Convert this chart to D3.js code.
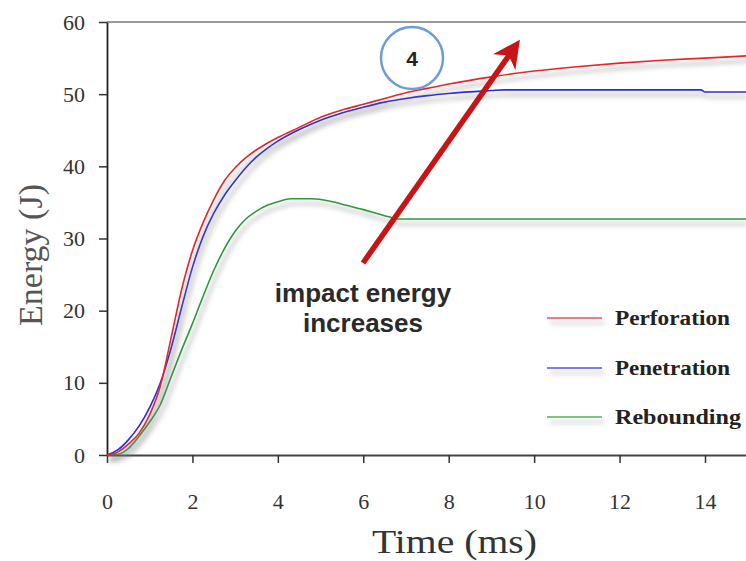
<!DOCTYPE html>
<html>
<head>
<script src="https://d3js.org/d3.v7.min.js"></script>
<style>
  body { margin: 0; background: #fff; }
</style>
</head>
<body>
<div id="chart"></div>
<script>
// time (ms) and energy (J)
const perfT = [0, 0.25, 0.5, 0.75, 1.0, 1.25, 1.5, 1.75, 2.0, 2.25, 2.5, 2.75, 3.0, 3.25, 3.5, 3.75, 4.0, 4.5, 5.0, 5.5, 6.0, 6.5, 7.0, 7.5, 8.0, 9.0, 10.0, 11.0, 12.0, 13.0, 14.0, 14.96];
const perfE = [0, 0.4, 1.5, 3.0, 5.6, 9.6, 16.2, 23.0, 28.3, 32.2, 35.4, 38.0, 39.8, 41.2, 42.3, 43.2, 44.0, 45.4, 46.8, 47.8, 48.6, 49.4, 50.2, 50.8, 51.4, 52.4, 53.2, 53.8, 54.3, 54.7, 55.0, 55.3];

const penT = [0, 0.25, 0.5, 0.75, 1.0, 1.25, 1.5, 1.75, 2.0, 2.25, 2.5, 2.75, 3.0, 3.25, 3.5, 3.75, 4.0, 4.5, 5.0, 5.5, 6.0, 6.5, 7.0, 7.5, 8.0, 9.0, 9.3, 13.9, 14.0, 14.96];
const penE = [0, 0.7, 2.1, 4.0, 6.6, 10.0, 14.8, 20.5, 26.0, 30.3, 33.5, 36.0, 38.0, 39.8, 41.3, 42.5, 43.5, 45.1, 46.4, 47.4, 48.2, 48.9, 49.4, 49.8, 50.1, 50.5, 50.6, 50.6, 50.3, 50.3];

const rebT = [0, 0.25, 0.5, 0.75, 1.0, 1.25, 1.5, 1.75, 2.0, 2.25, 2.5, 2.75, 3.0, 3.25, 3.5, 3.75, 4.0, 4.3, 4.8, 5.2, 5.6, 6.0, 6.3, 6.6, 6.8, 14.96];
const rebE = [0, 0.1, 0.9, 2.6, 4.6, 7.0, 10.8, 14.6, 18.2, 22.0, 25.6, 28.6, 31.0, 32.7, 33.8, 34.6, 35.1, 35.5, 35.5, 35.2, 34.6, 34.0, 33.5, 33.0, 32.7, 32.7];

const seriesNames = ["Perforation", "Penetration", "Rebounding"];
const seriesColors = ["#e8262a", "#2b2be0", "#2c9a3c"];
const xTicks = [0, 2, 4, 6, 8, 10, 12, 14];
const yTicks = [0, 10, 20, 30, 40, 50, 60];

const W = 746, H = 561;
const padL = 107, padT = 22, padR = 746, padB = 455;
const serif = "'Liberation Serif', 'Times New Roman', serif";
const sans = "'Liberation Sans', Arial, sans-serif";

const svg = d3.select("#chart").append("svg").attr("width", W).attr("height", H);

// soft grey shadow under the curves, like the scanned figure
const defs = svg.append("defs");
const f = defs.append("filter").attr("id", "shadow")
  .attr("filterUnits", "userSpaceOnUse")
  .attr("x", 0).attr("y", 0).attr("width", W).attr("height", H);
f.append("feGaussianBlur").attr("in", "SourceAlpha").attr("stdDeviation", 2.5).attr("result", "blur");
f.append("feOffset").attr("in", "blur").attr("dx", 3).attr("dy", 5).attr("result", "off");
f.append("feFlood").attr("flood-color", "#777").attr("flood-opacity", 0.75).attr("result", "col");
f.append("feComposite").attr("in", "col").attr("in2", "off").attr("operator", "in").attr("result", "shad");
const fm = f.append("feMerge");
fm.append("feMergeNode").attr("in", "shad");
fm.append("feMergeNode").attr("in", "SourceGraphic");

const x = d3.scaleLinear().domain([0, 14.96]).range([padL, padR]);
const y = d3.scaleLinear().domain([0, 60]).range([padB, padT]);

// top border
svg.append("line").attr("x1", padL).attr("x2", padR).attr("y1", padT).attr("y2", padT)
  .attr("stroke", "#777").attr("stroke-width", 1.5);

const yAxis = svg.append("g").attr("transform", `translate(${padL},0)`)
  .call(d3.axisLeft(y).tickValues(yTicks).tickSize(8).tickSizeOuter(0).tickPadding(14));
yAxis.select(".domain").attr("stroke", "#222").attr("stroke-width", 1.8);
yAxis.selectAll(".tick line").attr("stroke", "#333").attr("stroke-width", 1.5);

const xAxis = svg.append("g").attr("transform", `translate(0,${padB})`)
  .call(d3.axisBottom(x).tickValues(xTicks).tickSize(8).tickSizeOuter(0).tickPadding(30));
xAxis.select(".domain").attr("stroke", "#444").attr("stroke-width", 2);
xAxis.selectAll(".tick line").attr("stroke", "#333").attr("stroke-width", 1.5);

svg.selectAll(".tick text")
  .style("font-family", serif).style("font-size", "22px").attr("fill", "#333");

// axis titles
svg.append("text").attr("transform", "translate(42,255) rotate(-90)")
  .attr("text-anchor", "middle").style("font-family", serif)
  .attr("font-size", 34).attr("fill", "#555").text("Energy (J)");
svg.append("text").attr("x", 372).attr("y", 553)
  .style("font-family", serif).attr("font-size", 34)
  .attr("textLength", 165).attr("lengthAdjust", "spacingAndGlyphs")
  .attr("fill", "#333").text("Time (ms)");

const series = [
  { t: perfT, e: perfE },
  { t: penT, e: penE },
  { t: rebT, e: rebE }
];

const line = d3.line().x(d => x(d[0])).y(d => y(d[1])).curve(d3.curveMonotoneX);

// draw rebounding first, perforation on top
[2, 1, 0].forEach(i => {
  const pts = series[i].t.map((t, k) => [t, series[i].e[k]]);
  svg.append("path").datum(pts)
    .attr("d", line)
    .attr("fill", "none")
    .attr("stroke", seriesColors[i])
    .attr("stroke-width", 1.6)
    .attr("filter", "url(#shadow)");
});

// legend
const legendY = [318, 368, 417];
const lg = svg.append("g");
seriesNames.forEach((name, i) => {
  lg.append("line").attr("x1", 547).attr("x2", 602)
    .attr("y1", legendY[i]).attr("y2", legendY[i])
    .attr("stroke", seriesColors[i]).attr("stroke-width", 1.5).attr("stroke-opacity", 0.8)
    .attr("filter", "url(#shadow)");
  lg.append("text").attr("x", 615).attr("y", legendY[i] + 7)
    .style("font-family", serif).attr("font-weight", "bold")
    .attr("font-size", 20).attr("textLength", name === "Rebounding" ? 126 : 115)
    .attr("lengthAdjust", "spacingAndGlyphs")
    .attr("fill", "#222").text(name);
});

// annotation: arrow
defs.append("marker").attr("id", "head").attr("viewBox", "0 0 10 10")
  .attr("refX", 5).attr("refY", 5).attr("markerWidth", 5).attr("markerHeight", 5)
  .attr("orient", "auto")
  .append("path").attr("d", "M0,0 L10,5 L0,10 L3,5 Z").attr("fill", "#c81414");
svg.append("line").attr("x1", 363).attr("y1", 263).attr("x2", 512).attr("y2", 51)
  .attr("stroke", "#c81414").attr("stroke-width", 5.5)
  .attr("marker-end", "url(#head)");

svg.append("text").attr("x", 363).attr("y", 302).attr("text-anchor", "middle")
  .style("font-family", sans).attr("font-weight", "bold")
  .attr("font-size", 26).attr("fill", "#2a2a2a").text("impact energy");
svg.append("text").attr("x", 363).attr("y", 332).attr("text-anchor", "middle")
  .style("font-family", sans).attr("font-weight", "bold")
  .attr("font-size", 26).attr("fill", "#2a2a2a").text("increases");

// circled number
svg.append("circle").attr("cx", 412).attr("cy", 58).attr("r", 31)
  .attr("fill", "none").attr("stroke", "#6f9bd6").attr("stroke-width", 2.5);
svg.append("text").attr("x", 412).attr("y", 66).attr("text-anchor", "middle")
  .style("font-family", sans).attr("font-weight", "bold")
  .attr("font-size", 21).attr("fill", "#222").text("4");
</script>
</body>
</html>
